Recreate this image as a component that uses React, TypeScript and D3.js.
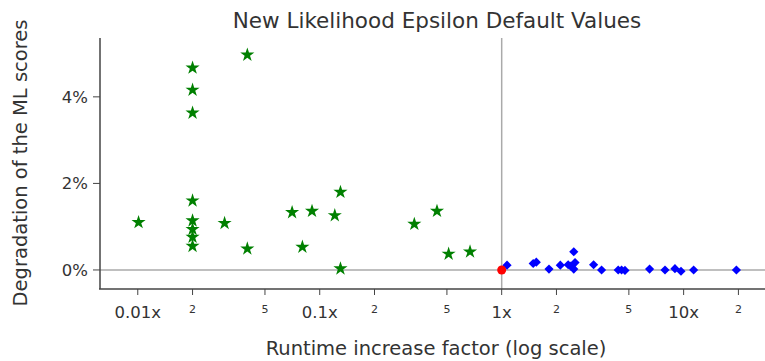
import React from "react";
import * as d3 from "d3";

const greenX = [0.04, 0.02, 0.02, 0.02, 0.0101, 0.02, 0.02, 0.02, 0.02, 0.02, 0.03, 0.04, 0.0705, 0.0907, 0.13, 0.121, 0.0803, 0.13, 0.331, 0.441, 0.511, 0.67];
const greenY = [4.97, 4.67, 4.16, 3.63, 1.10, 1.60, 1.14, 0.94, 0.76, 0.55, 1.08, 0.49, 1.33, 1.36, 1.80, 1.26, 0.53, 0.03, 1.06, 1.36, 0.37, 0.42];

const blueX = [1.07, 1.49, 1.55, 1.82, 2.10, 2.32, 2.40, 2.49, 2.53, 2.49, 3.2, 3.54, 4.37, 4.56, 4.76, 6.5, 7.9, 8.96, 9.67, 11.35, 19.5];
const blueY = [0.11, 0.15, 0.18, 0.02, 0.11, 0.12, 0.09, 0.42, 0.17, 0.02, 0.12, 0.0, 0.0, 0.0, -0.01, 0.02, 0.0, 0.03, -0.03, 0.0, 0.0];

const redX = [1];
const redY = [0];

const majorTicks = [0.01, 0.1, 1, 10];
const majorLabels = ["0.01x", "0.1x", "1x", "10x"];
const minorTicks = [0.02, 0.05, 0.2, 0.5, 2, 5, 20];
const minorLabels = ["2", "5", "2", "5", "2", "5", "2"];
const yTicks = [0, 2, 4];
const yLabels = ["0%", "2%", "4%"];

const font = "'DejaVu Sans', Verdana, sans-serif";

export default function App() {
  const W = 765, H = 361;
  const x = d3.scaleLog().domain([0.0062, 28]).range([100, 765]);
  const y = d3.scaleLinear().domain([-0.44, 5.36]).range([289, 38]);
  const star = d3.symbol().type(d3.symbolStar).size(62)()!;
  const diamond = d3.symbol().type(d3.symbolSquare).size(42)()!;
  const axisColor = "#444";
  const textColor = "#333";
  return (
    <svg width={W} height={H} style={{ position: "absolute", left: 0, top: 0 }}>
      <rect width={W} height={H} fill="white" />
      <line x1={100} x2={765} y1={y(0)} y2={y(0)} stroke="#aaa" strokeWidth={1.5} />
      <line x1={x(1)} x2={x(1)} y1={38} y2={289} stroke="#aaa" strokeWidth={1.5} />
      <line x1={100} x2={100} y1={38} y2={289} stroke={axisColor} strokeWidth={1.5} />
      <line x1={99} x2={765} y1={289} y2={289} stroke={axisColor} strokeWidth={1.5} />
      {majorTicks.map((t, i) => (
        <g key={"M" + i}>
          <line x1={x(t)} x2={x(t)} y1={289} y2={295} stroke={axisColor} />
          <text x={x(t)} y={317.5} textAnchor="middle" fontFamily={font} fontSize={16.5} fill={textColor}>
            {majorLabels[i]}
          </text>
        </g>
      ))}
      {minorTicks.map((t, i) => (
        <g key={"m" + i}>
          <line x1={x(t)} x2={x(t)} y1={289} y2={295} stroke={axisColor} />
          <text x={x(t)} y={313} textAnchor="middle" fontFamily={font} fontSize={11} fill={textColor}>
            {minorLabels[i]}
          </text>
        </g>
      ))}
      {yTicks.map((t, i) => (
        <g key={"y" + i}>
          <line x1={93} x2={100} y1={y(t)} y2={y(t)} stroke={axisColor} />
          <text x={88} y={y(t) + 6} textAnchor="end" fontFamily={font} fontSize={16.5} fill={textColor}>
            {yLabels[i]}
          </text>
        </g>
      ))}
      {greenX.map((v, i) => (
        <path key={"g" + i} d={star} transform={`translate(${x(v)},${y(greenY[i])})`} fill="green" />
      ))}
      {blueX.map((v, i) => (
        <path key={"b" + i} d={diamond} transform={`translate(${x(v)},${y(blueY[i])}) rotate(45)`} fill="blue" />
      ))}
      {redX.map((v, i) => (
        <circle key={"r" + i} cx={x(v)} cy={y(redY[i])} r={4.5} fill="red" />
      ))}
      <text x={437} y={27.5} textAnchor="middle" fontFamily={font} fontSize={21.5} fill={textColor}>
        New Likelihood Epsilon Default Values
      </text>
      <text x={436} y={355} textAnchor="middle" fontFamily={font} fontSize={19.5} fill={textColor}>
        Runtime increase factor (log scale)
      </text>
      <text transform={`translate(27,163) rotate(-90)`} textAnchor="middle" fontFamily={font} fontSize={19.5} fill={textColor}>
        Degradation of the ML scores
      </text>
    </svg>
  );
}
